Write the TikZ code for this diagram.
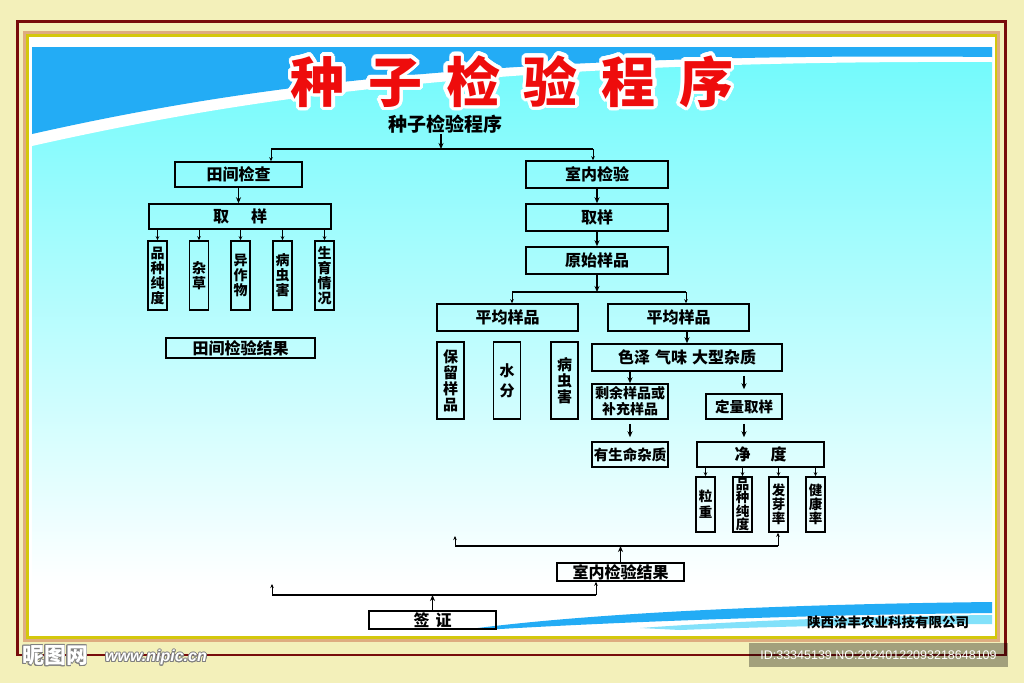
\documentclass[tikz,border=0pt]{standalone}
\usepackage{fontspec}
\usepackage{contour}
\newfontfamily\cjk{Noto Sans CJK SC}
\newfontfamily\lsans{Liberation Sans}
\usetikzlibrary{arrows.meta}
\definecolor{bg}{RGB}{243,240,186}
\definecolor{framered}{RGB}{120,12,12}
\definecolor{tanc}{RGB}{222,172,128}
\definecolor{yel}{RGB}{212,200,12}
\definecolor{skyb}{RGB}{35,172,245}
\definecolor{cyanl}{RGB}{112,250,252}
\definecolor{cyanm}{RGB}{160,251,252}
\definecolor{lightb}{RGB}{130,225,250}
\definecolor{titlered}{RGB}{238,12,12}
\tikzset{
  bx/.style={draw=black, line width=1.5pt, inner sep=0pt, font=\cjk\bfseries\fontsize{16}{18}\selectfont},
  vb/.style={draw=black, line width=1.5pt, inner sep=0pt, align=center, font=\cjk\bfseries\fontsize{14}{15}\selectfont},
  ar/.style={-{Stealth[length=6pt,width=5pt]}, line width=1.1pt},
  sar/.style={-{Stealth[length=4pt,width=3.5pt]}, line width=0.7pt},
  ln/.style={line width=1.1pt},
}
\begin{document}
\begin{tikzpicture}[x=1pt,y=-1pt]
\useasboundingbox (0,0) rectangle (1024,683);
% ---------- frame ----------
\fill[bg] (0,0) rectangle (1024,683);
\draw[framered, line width=2.4pt] (17.5,21.5) rectangle (1005.5,655);
\fill[tanc] (23,31) rectangle (1000,642);
\fill[yel] (26,34) rectangle (997,639);
\fill[white] (29,37) rectangle (995,636);
% ---------- panel ----------
\shade[top color=cyanl, middle color=cyanm, bottom color=white] (32,47) rectangle (992,585);
\fill[white] (32,47) -- (992,47) -- (992,62) .. controls (500,60) and (250,97) .. (32,146) -- cycle;
\fill[skyb] (32,47) -- (992,47) -- (992,57) .. controls (500,52) and (250,85) .. (32,134) -- cycle;
\fill[skyb] (470,629) .. controls (600,612) and (800,604) .. (992,602) -- (992,613) .. controls (800,615) and (620,622) .. (500,629) -- cycle;
\fill[lightb] (640,628) .. controls (750,620) and (880,616) .. (992,615) -- (992,624) .. controls (880,624) and (760,627) .. (680,630) -- cycle;
% ---------- title ----------
\contourlength{3.5pt}\contournumber{32}
\node[font=\cjk\bfseries\fontsize{54}{56}\selectfont, inner sep=0pt] (title) at (512,83)
  {\contour{white}{\textcolor{titlered}{种\hspace{23.8pt}子\hspace{23.8pt}检\hspace{23.8pt}验\hspace{23.8pt}程\hspace{23.8pt}序}}};
% ---------- header ----------
\node[font=\cjk\bfseries\fontsize{19}{21}\selectfont, inner sep=1pt] (hdr) at (445,124) {种子检验程序};
\coordinate (j0) at (441,149);
\coordinate (jl) at (271,149);
\coordinate (jr) at (593,149);
% ---------- left branch ----------
\node[bx, minimum width=127pt, minimum height=25pt] (tj) at (238.5,174.5) {田间检查};
\node[bx, minimum width=182pt, minimum height=25pt] (tq) at (240,216.5) {取\hspace{22pt}样};
\node[vb, minimum width=19pt, minimum height=69pt] (v1) at (157.5,275.5) {品\\种\\纯\\度};
\node[vb, minimum width=19pt, minimum height=69pt] (v2) at (199,275.5) {杂\\草};
\node[vb, minimum width=19pt, minimum height=69pt] (v3) at (240.5,275.5) {异\\作\\物};
\node[vb, minimum width=19pt, minimum height=69pt] (v4) at (282.5,275.5) {病\\虫\\害};
\node[vb, minimum width=19pt, minimum height=69pt] (v5) at (324.5,275.5) {生\\育\\情\\况};
\node[bx, minimum width=149pt, minimum height=20pt] (tr) at (240.5,348) {田间检验结果};
% ---------- right branch ----------
\node[bx, minimum width=142pt, minimum height=27pt] (sn) at (597,174.5) {室内检验};
\node[bx, minimum width=142pt, minimum height=27pt] (sq) at (597,217.5) {取样};
\node[bx, minimum width=142pt, minimum height=27pt] (sy) at (597,260.5) {原始样品};
\coordinate (j2l) at (512,292);
\coordinate (j2r) at (686,292);
\node[bx, minimum width=141pt, minimum height=27pt] (pa) at (507.5,317.5) {平均样品};
\node[bx, minimum width=141pt, minimum height=27pt] (pb) at (678.5,317.5) {平均样品};
\node[vb, font=\cjk\bfseries\fontsize{15}{16}\selectfont, minimum width=27pt, minimum height=77pt] (w1) at (450.5,380.5) {保\\留\\样\\品};
\node[vb, font=\cjk\bfseries\fontsize{15}{20}\selectfont, minimum width=27pt, minimum height=77pt] (w2) at (507,380.5) {水\\分};
\node[vb, font=\cjk\bfseries\fontsize{15}{16}\selectfont, minimum width=27pt, minimum height=77pt] (w3) at (564.5,380.5) {病\\虫\\害};
\node[bx, minimum width=190pt, minimum height=27pt] (sz) at (687,357.5) {色泽\hspace{5pt}气味\hspace{5pt}大型杂质};
\node[bx, align=center, font=\cjk\bfseries\fontsize{14}{16}\selectfont, minimum width=76pt, minimum height=35pt] (sy2) at (630,401.5) {剩余样品或\\补充样品};
\node[bx, font=\cjk\bfseries\fontsize{14.5}{16}\selectfont, minimum width=76pt, minimum height=25pt] (dl) at (744,406.5) {定量取样};
\node[bx, font=\cjk\bfseries\fontsize{14.5}{16}\selectfont, minimum width=76pt, minimum height=25pt] (ys) at (630,454.5) {有生命杂质};
\node[bx, minimum width=127pt, minimum height=25pt] (jd) at (760.5,454.5) {净\hspace{20pt}度};
\node[vb, font=\cjk\bfseries\fontsize{13.5}{16}\selectfont, minimum width=19pt, minimum height=55pt] (k1) at (705.5,504.5) {粒\\重};
\node[vb, font=\cjk\bfseries\fontsize{13.5}{13.5}\selectfont, minimum width=19pt, minimum height=55pt] (k2) at (742.5,504.5) {品\\种\\纯\\度};
\node[vb, font=\cjk\bfseries\fontsize{13.5}{14}\selectfont, minimum width=19pt, minimum height=55pt] (k3) at (778.5,504.5) {发\\芽\\率};
\node[vb, font=\cjk\bfseries\fontsize{13.5}{14}\selectfont, minimum width=19pt, minimum height=55pt] (k4) at (815.5,504.5) {健\\康\\率};
% ---------- bottom ----------
\node[bx, minimum width=127pt, minimum height=18pt] (sr) at (620.5,572) {室内检验结果};
\node[bx, minimum width=127pt, minimum height=18pt] (qz) at (432.5,620) {签\hspace{6pt}证};
\coordinate (b1l) at (455,546);
\coordinate (b1r) at (778,546);
\coordinate (b1u) at (455,536);
\coordinate (b2l) at (272,595);
\coordinate (b2r) at (596,595);
\coordinate (b2u) at (272,584);
\node[font=\cjk\bfseries\fontsize{13.5}{15}\selectfont, inner sep=0pt] (co) at (888,622) {陕西洽丰农业科技有限公司};
% ---------- connectors ----------
\draw[ar] (j0 |- hdr.south) -- (j0);
\draw[ln] (jl) -- (jr);
\draw[sar] (jl) -- (jl |- tj.north);
\draw[sar] (jr) -- (jr |- sn.north);
\draw[ar] (tj.south) -- (tj.south |- tq.north);
\foreach \v in {v1,v2,v3,v4,v5} \draw[sar] (\v.north |- tq.south) -- (\v.north);
\draw[ar] (sn.south) -- (sq.north);
\draw[ar] (sq.south) -- (sy.north);
\draw[ar] (sy.south) -- (sy.south |- j2l);
\draw[ln] (j2l) -- (j2r);
\draw[sar] (j2l) -- (j2l |- pa.north);
\draw[sar] (j2r) -- (j2r |- pb.north);
\draw[ar] (pb.south -| sz.north) -- (sz.north);
\draw[ar] (sy2.north |- sz.south) -- (sy2.north);
\draw[ar, shorten <=4pt, shorten >=4pt] (sz.south -| dl.north) -- (dl.north);
\draw[ar, shorten <=4pt, shorten >=4pt] (sy2.south) -- (ys.north);
\draw[ar, shorten <=4pt, shorten >=4pt] (dl.south) -- (dl.south |- jd.north);
\foreach \k in {k1,k2,k3,k4} \draw[sar] (\k.north |- jd.south) -- (\k.north);
\draw[ln] (b1l) -- (b1r);
\draw[sar] (b1r) -- (b1r |- k3.south);
\draw[sar] (b1l) -- (b1u);
\draw[ar] (sr.north) -- (sr.north |- b1l);
\draw[ln] (b2l) -- (b2r);
\draw[sar] (b2r) -- (b2r |- sr.south);
\draw[sar] (b2l) -- (b2u);
\draw[ar] (qz.north) -- (qz.north |- b2l);
% ---------- watermarks ----------
\fill[black, opacity=0.33] (749,643) rectangle (1008,667);
\node[text=white, font=\lsans\fontsize{12.5}{14}\selectfont, inner sep=0pt] (wid) at (878.5,655) {ID:33345139 NO:20240122093218648109};
\contourlength{0.8pt}\contournumber{16}
\node[text=white, font=\cjk\bfseries\fontsize{22}{24}\selectfont, inner sep=0pt] (wlogo) at (55,656) {\contour{gray}{昵图网}};
\node[text=white, font=\lsans\bfseries\itshape\fontsize{16}{18}\selectfont, inner sep=0pt] (wurl) at (156,658) {\contour{gray}{www.nipic.cn}};
\end{tikzpicture}
\end{document}
